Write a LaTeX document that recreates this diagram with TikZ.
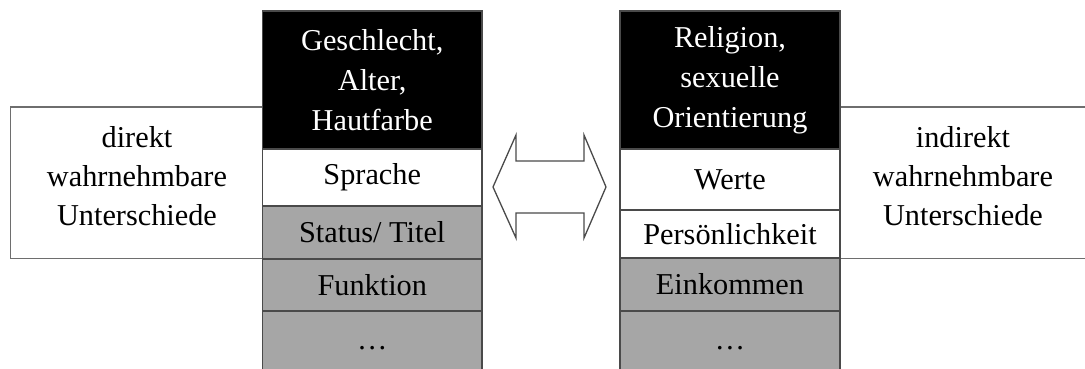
\documentclass[tikz,border=0pt]{standalone}
\usepackage{fontspec}
\setmainfont{Liberation Serif}
\definecolor{cellgray}{HTML}{A6A6A6}
\definecolor{edge}{HTML}{4A4A4A}
\begin{document}
\begin{tikzpicture}[x=1pt,y=-1pt,
  cell/.style={draw=edge, line width=1.3pt, anchor=north west, inner sep=0pt, outer sep=0pt,
    align=center, font=\fontsize{30.3}{40}\selectfont},
  dark/.style={cell, fill=black, text=white},
  light/.style={cell, fill=white},
  grey/.style={cell, fill=cellgray},
  outer/.style={cell, fill=white, draw=edge!80!white, line width=1.2pt},
  sidetext/.style={align=center, font=\fontsize{30.3}{39}\selectfont}]
\useasboundingbox (0,0) rectangle (1085,369);
% outer boxes
\node[outer, minimum width=252pt, minimum height=151.5pt] (lbox) at (10.7,107) {};
\node[sidetext] (ltext) at (137,176) {direkt\\wahrnehmbare\\Unterschiede};
\node[outer, minimum width=250pt, minimum height=151.5pt] (rbox) at (840,107) {};
\node[sidetext] (rtext) at (963,176) {indirekt\\wahrnehmbare\\Unterschiede};
% left column
\node[dark, minimum width=219.5pt, minimum height=138pt] (l1) at (262.5,11) {Geschlecht,\\Alter,\\Hautfarbe};
\node[light, minimum width=219.5pt, minimum height=57pt] (l2) at (262.5,149) {Sprache};
\node[grey, minimum width=219.5pt, minimum height=53pt] (l3) at (262.5,206) {Status/ Titel};
\node[grey, minimum width=219.5pt, minimum height=52pt] (l4) at (262.5,259) {Funktion};
\node[grey, minimum width=219.5pt, minimum height=64pt] (l5) at (262.5,311) {\raisebox{-6pt}[0pt][0pt]{…}};
% right column
\node[dark, minimum width=220pt, minimum height=138pt] (r1) at (620,11) {Religion,\\sexuelle\\Orientierung};
\node[light, minimum width=220pt, minimum height=61pt] (r2) at (620,149) {Werte};
\node[light, minimum width=220pt, minimum height=48pt] (r3) at (620,210) {Persönlichkeit};
\node[grey, minimum width=220pt, minimum height=53pt] (r4) at (620,258) {Einkommen};
\node[grey, minimum width=220pt, minimum height=64pt] (r5) at (620,311) {\raisebox{-6pt}[0pt][0pt]{…}};
% double arrow
\draw[draw=edge, line width=1.3pt, fill=white, line join=miter]
  (493,187) -- (516,135) -- (516,161) -- (584,161) -- (584,135) -- (606,187)
  -- (584,238) -- (584,213) -- (516,213) -- (516,238) -- cycle;
\end{tikzpicture}
\end{document}
